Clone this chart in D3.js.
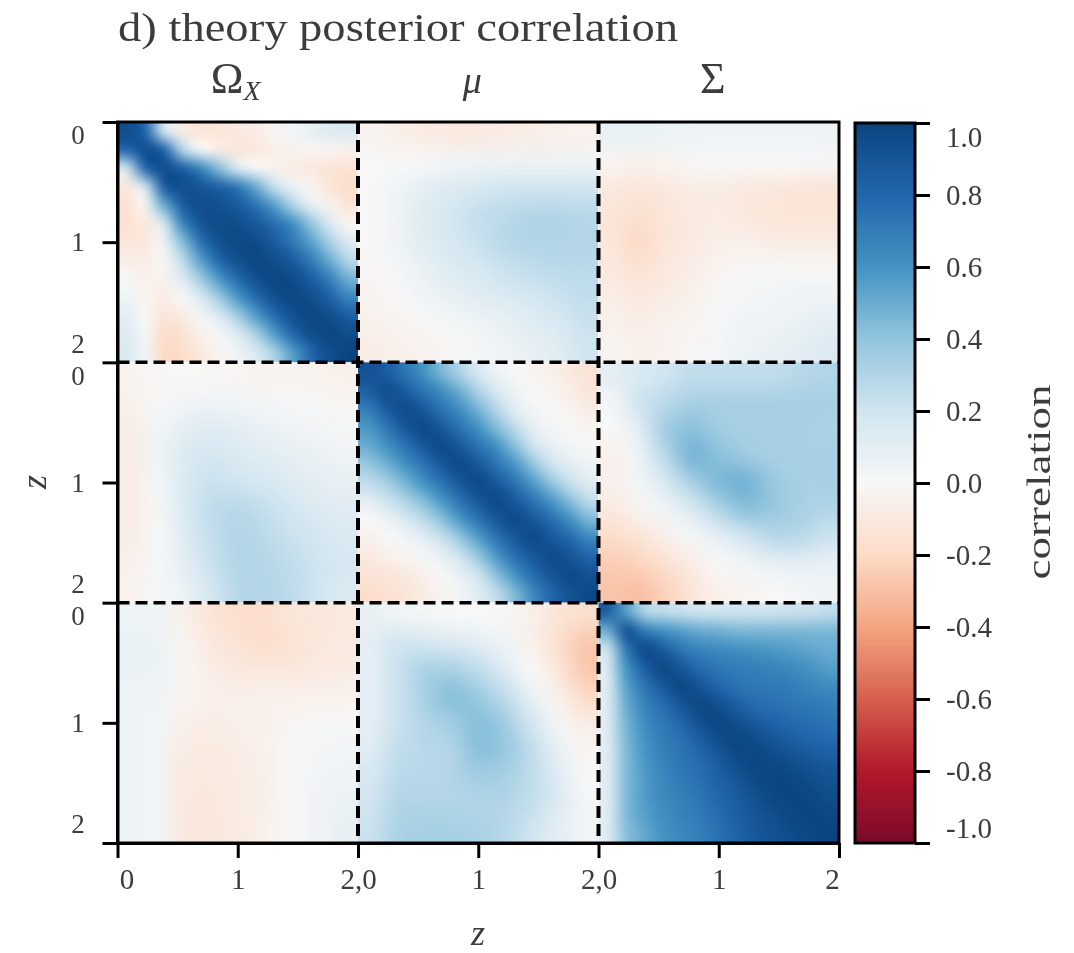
<!DOCTYPE html>
<html>
<head>
<meta charset="UTF-8">
<script src="https://d3js.org/d3.v7.min.js"></script>
<style>
    html, body { margin: 0; background: #fff; }
    svg { display: block; filter: blur(0.5px); }
    text { font-family: "Liberation Serif", serif; fill: #3c3c3c; }
    .axis path, .axis line { stroke: #000; stroke-width: 3px; }
    .axis text { font-size: 29px; }
</style>
</head>
<body>
<svg id="chart" width="1074" height="953"></svg>
<script>
// RdBu stops, -1 to 1 (ends as they look in the washed out picture)
const rdbuStops = ["#7a0a2a","#b2182b","#d6604d","#f4a582","#fddbc7","#f7f7f7","#d1e5f0","#92c5de","#4393c3","#2166ac","#0a4480"];
const colorTicks = [1, 0.8, 0.6, 0.4, 0.2, 0, -0.2, -0.4, -0.6, -0.8, -1];
const columnTitles = ["Ω", "μ", "Σ"];
const xTickLabels = ["0", "1", "2,0", "1", "2,0", "1", "2"];
const zLabels = ["0", "1", "2"];

// rows run top to bottom
const omegaOmega = [
  [.95,.8,.2,-.08,-.13,-.12,-.1,-.07,-.02,.03,.08,.13,.15],
  [.8,.95,.82,.3,0,-.08,-.12,-.1,-.06,-.04,-.03,-.03,-.04],
  [.2,.8,.95,.85,.66,.42,.15,0,-.04,-.07,-.1,-.13,-.15],
  [-.1,.2,.85,.95,.9,.83,.72,.5,.22,.06,-.03,-.12,-.18],
  [-.15,-.03,.5,.85,.95,.93,.86,.74,.55,.3,.08,-.04,-.12],
  [-.15,-.1,.16,.65,.9,.96,.95,.88,.76,.62,.38,.14,-.02],
  [-.12,-.1,.05,.42,.75,.92,.97,.96,.86,.72,.54,.32,.13],
  [-.06,-.08,-.01,.25,.55,.8,.93,.98,.95,.86,.7,.5,.28],
  [0,-.05,-.04,.12,.35,.58,.78,.93,.98,.96,.85,.68,.48],
  [.05,-.02,-.08,.01,.15,.36,.58,.78,.93,.98,.94,.83,.66],
  [.1,0,-.13,-.08,.02,.14,.34,.56,.78,.93,.98,.95,.85],
  [.13,.02,-.18,-.15,-.05,.02,.13,.32,.56,.8,.95,.99,.95],
  [.15,.03,-.2,-.18,-.1,-.03,.04,.14,.32,.56,.8,.95,1]
];
const omegaMu = [
  [-.03,-.06,-.08,-.09,-.09,-.08,-.07,-.05,-.04],
  [0,0,.01,.03,.05,.06,.06,.06,.05],
  [0,.04,.1,.14,.17,.2,.2,.2,.2],
  [0,.05,.13,.18,.24,.27,.3,.3,.28],
  [0,.04,.12,.17,.22,.28,.3,.3,.3],
  [-.02,.02,.08,.13,.17,.22,.25,.27,.27],
  [-.03,0,.04,.08,.12,.15,.18,.22,.25],
  [-.05,-.03,-.01,.02,.05,.08,.12,.16,.22],
  [-.07,-.05,-.04,-.01,.02,.05,.08,.12,.2]
];
const omegaSigma = [
  [.07,.07,.06,.05,.05,.05,.05,.05,.05],
  [-.03,-.04,-.03,-.01,0,0,0,0,.01],
  [-.1,-.12,-.1,-.08,-.08,-.1,-.11,-.12,-.13],
  [-.12,-.17,-.12,-.09,-.08,-.1,-.12,-.13,-.13],
  [-.12,-.2,-.12,-.09,-.06,-.06,-.07,-.08,-.08],
  [-.1,-.15,-.1,-.07,-.03,-.01,0,-.01,-.01],
  [-.07,-.1,-.08,-.05,0,.02,.03,.04,.04],
  [-.05,-.07,-.05,-.03,.01,.04,.05,.07,.09],
  [-.03,-.05,-.04,-.01,.02,.06,.08,.1,.14]
];
const muOmega = [
  [-.03,-.01,0,-.01,-.02,-.03,-.03,-.04,-.05],
  [-.05,0,.03,.04,.03,.02,.01,0,-.02],
  [-.07,.03,.1,.13,.1,.07,.05,.03,.01],
  [-.08,.03,.14,.18,.15,.12,.09,.07,.05],
  [-.08,.02,.15,.22,.2,.17,.13,.1,.08],
  [-.08,.01,.14,.25,.28,.24,.18,.14,.12],
  [-.07,.01,.12,.24,.3,.27,.22,.18,.15],
  [-.05,.01,.1,.22,.3,.29,.25,.2,.17],
  [-.04,.01,.06,.18,.28,.3,.26,.2,.15]
];
const muMu = [
  [.92,.86,.73,.6,.45,.3,.15,.05,0,-.03,-.06,-.1,-.14],
  [.84,.94,.86,.74,.62,.48,.3,.15,.05,0,-.03,-.07,-.12],
  [.7,.86,.96,.88,.74,.62,.46,.28,.1,.03,0,-.03,-.08],
  [.58,.72,.88,.97,.88,.74,.6,.43,.25,.08,.02,0,-.03],
  [.5,.6,.74,.88,.97,.88,.74,.6,.41,.2,.08,.03,0],
  [.38,.48,.6,.74,.88,.97,.88,.74,.58,.38,.2,.1,.05],
  [.25,.33,.46,.6,.74,.88,.97,.88,.74,.56,.38,.22,.12],
  [.1,.2,.3,.43,.58,.74,.88,.97,.88,.74,.58,.42,.25],
  [0,.05,.15,.26,.41,.58,.74,.88,.97,.88,.76,.6,.45],
  [-.05,0,.03,.1,.22,.38,.56,.74,.88,.97,.88,.78,.65],
  [-.1,-.06,-.02,.02,.08,.2,.38,.58,.76,.88,.97,.9,.8],
  [-.14,-.12,-.1,-.05,0,.08,.2,.42,.6,.78,.9,.97,.92],
  [-.18,-.16,-.13,-.08,-.03,.03,.12,.25,.45,.65,.8,.92,.97]
];
const muSigma = [
  [.1,.15,.2,.25,.25,.25,.25,.28,.3],
  [.02,.2,.27,.33,.33,.33,.33,.33,.33],
  [0,.1,.35,.42,.35,.33,.33,.33,.32],
  [-.05,.05,.28,.47,.42,.36,.33,.33,.33],
  [-.05,.03,.15,.33,.45,.48,.38,.33,.33],
  [-.1,-.03,.05,.15,.3,.42,.38,.33,.3],
  [-.18,-.13,-.05,.02,.1,.2,.28,.28,.22],
  [-.25,-.22,-.15,-.07,0,.05,.08,.1,.08],
  [-.28,-.3,-.23,-.12,-.05,-.02,0,.02,.05]
];
const sigmaOmega = [
  [.05,.05,-.05,-.13,-.17,-.17,-.12,-.11,-.1],
  [.07,.06,-.03,-.1,-.14,-.18,-.15,-.11,-.1],
  [.07,.06,-.02,-.07,-.1,-.11,-.1,-.09,-.08],
  [.05,.04,-.03,-.06,-.06,-.05,-.05,-.05,-.04],
  [.05,.03,-.05,-.07,-.06,-.05,-.02,0,0],
  [.05,.03,-.08,-.09,-.07,-.05,0,.02,.03],
  [.05,.03,-.09,-.1,-.08,-.06,0,.03,.05],
  [.05,.03,-.1,-.11,-.08,-.06,0,.04,.07],
  [.05,.03,-.1,-.11,-.09,-.05,0,.04,.08]
];
const sigmaMu = [
  [.08,.03,.02,0,0,-.01,-.06,-.13,-.17],
  [.1,.2,.17,.14,.1,.05,-.05,-.17,-.27],
  [.1,.22,.32,.32,.25,.12,0,-.12,-.27],
  [.1,.22,.33,.43,.37,.25,.07,-.05,-.2],
  [.1,.22,.3,.35,.43,.35,.18,.02,-.08],
  [.12,.25,.28,.3,.42,.38,.25,.07,-.02],
  [.17,.27,.28,.3,.35,.33,.25,.12,0],
  [.2,.3,.3,.3,.3,.3,.24,.13,.02],
  [.22,.32,.33,.33,.32,.28,.2,.1,.03]
];
const sigmaSigma = [
  [.85,.55,.3,.25,.22,.2,.2,.2,.2,.2,.22,.22,.25],
  [.5,.92,.7,.6,.55,.5,.48,.45,.45,.45,.45,.45,.45],
  [.22,.72,.97,.85,.72,.66,.63,.61,.59,.57,.55,.52,.5],
  [.15,.6,.85,.98,.88,.77,.72,.7,.68,.66,.63,.59,.55],
  [.13,.54,.74,.88,.98,.9,.8,.74,.72,.71,.69,.66,.63],
  [.12,.5,.67,.77,.9,.98,.93,.84,.77,.75,.73,.71,.69],
  [.12,.47,.63,.72,.8,.93,.98,.94,.87,.82,.78,.76,.74],
  [.12,.45,.6,.69,.75,.84,.94,.98,.96,.9,.85,.81,.79],
  [.12,.44,.58,.67,.73,.78,.87,.96,.98,.97,.93,.89,.86],
  [.12,.44,.57,.65,.71,.76,.83,.9,.97,.99,.98,.95,.91],
  [.12,.44,.57,.64,.69,.73,.8,.86,.93,.98,.99,.98,.95],
  [.12,.44,.55,.62,.67,.71,.77,.84,.9,.95,.98,.99,.98],
  [.12,.42,.52,.6,.65,.69,.75,.82,.88,.92,.96,.98,1]
];
const blocks = [
  [omegaOmega, omegaMu, omegaSigma],
  [muOmega, muMu, muSigma],
  [sigmaOmega, sigmaMu, sigmaSigma]
];

const svg = d3.select("#chart");

// each block covers z 0..2, so the whole axis runs 0..6
const x = d3.scaleLinear().domain([0, 6]).range([117.5, 839]);
const y = d3.scaleLinear().domain([0, 6]).range([122, 843]);
const color = d3.scaleLinear()
    .domain(d3.range(11).map(i => -1 + i * 0.2))
    .range(rdbuStops);
const colorY = d3.scaleLinear().domain([-1, 1]).range([843, 123]);

// one pixel per cell, the browser smooths them like imshow does
function blockImage(matrix) {
    const n = matrix.length;
    const small = document.createElement("canvas");
    small.width = small.height = n;
    const sctx = small.getContext("2d");
    matrix.forEach((row, r) => row.forEach((v, c) => {
        sctx.fillStyle = color(v);
        sctx.fillRect(c, r, 1, 1);
    }));
    const big = document.createElement("canvas");
    big.width = big.height = 240;
    const bctx = big.getContext("2d");
    bctx.imageSmoothingEnabled = true;
    bctx.imageSmoothingQuality = "high";
    bctx.drawImage(small, 0, 0, 240, 240);
    return big.toDataURL();
}

blocks.forEach((row, r) => row.forEach((matrix, c) => {
    svg.append("image")
        .attr("href", blockImage(matrix))
        .attr("x", x(c * 2))
        .attr("y", y(r * 2))
        .attr("width", x(2) - x(0))
        .attr("height", y(2) - y(0))
        .attr("preserveAspectRatio", "none");
}));

// dashed block separators
[2, 4].forEach(v => {
    svg.append("line").attr("x1", x(0)).attr("x2", x(6)).attr("y1", y(v)).attr("y2", y(v))
        .attr("stroke", "#000").attr("stroke-width", 3.5).attr("stroke-dasharray", "12,6");
    svg.append("line").attr("x1", x(v)).attr("x2", x(v)).attr("y1", y(0)).attr("y2", y(6))
        .attr("stroke", "#000").attr("stroke-width", 4).attr("stroke-dasharray", "12,6");
});

// frame
svg.append("rect")
    .attr("x", x(0)).attr("y", y(0))
    .attr("width", x(6) - x(0)).attr("height", y(6) - y(0))
    .attr("fill", "none").attr("stroke", "#000").attr("stroke-width", 3);

// x axis
const xAxis = svg.append("g").attr("class", "axis")
    .attr("transform", `translate(0,${y(6)})`)
    .call(d3.axisBottom(x).tickValues(d3.range(7)).tickSize(15).tickSizeOuter(0)
        .tickFormat((d, i) => xTickLabels[i]));
xAxis.selectAll(".tick text").attr("y", 25).attr("dy", "0.71em")
    .attr("dx", (d, i) => i === 0 ? 9 : i === 6 ? -7 : 0);

// y axis: ticks only, labels are placed per block because 2 and 0 share a tick
svg.append("g").attr("class", "axis")
    .attr("transform", `translate(${x(0)},0)`)
    .call(d3.axisLeft(y).tickValues(d3.range(7)).tickSize(15).tickSizeOuter(0).tickFormat(""));
blocks.forEach((row, r) => zLabels.forEach((label, i) => {
    const offset = i === 0 ? 13 : i === 2 ? -19 : 0;
    svg.append("text")
        .attr("x", 78).attr("y", y(r * 2 + i) + offset)
        .attr("dy", "0.34em")
        .attr("text-anchor", "middle")
        .attr("font-size", 27)
        .text(label);
}));

// colorbar
const defs = svg.append("defs");
const grad = defs.append("linearGradient").attr("id", "rdbu")
    .attr("x1", 0).attr("x2", 0).attr("y1", 1).attr("y2", 0);
rdbuStops.forEach((c, i) => grad.append("stop").attr("offset", i / 10).attr("stop-color", c));
svg.append("rect")
    .attr("x", 855).attr("y", colorY(1))
    .attr("width", 60).attr("height", colorY(-1) - colorY(1))
    .attr("fill", "url(#rdbu)").attr("stroke", "#000").attr("stroke-width", 3);
const cbAxis = svg.append("g").attr("class", "axis")
    .attr("transform", "translate(915,0)")
    .call(d3.axisRight(colorY).tickValues(colorTicks).tickSize(15).tickSizeOuter(0)
        .tickFormat(d3.format(".1f")));
cbAxis.select(".domain").remove();
cbAxis.selectAll(".tick text")
    .attr("x", 31)
    .attr("dy", d => d === 1 ? "0.8em" : d === -1 ? "-0.18em" : "0.32em")
    .text(d => d3.format(".1f")(d).replace("−", "-"));

// titles and axis labels
svg.append("text").attr("x", 118).attr("y", 41)
    .attr("font-size", 39).attr("textLength", 560).attr("lengthAdjust", "spacingAndGlyphs")
    .text("d) theory posterior correlation");
columnTitles.forEach((t, i) => {
    const label = svg.append("text")
        .attr("x", x(i * 2 + 1) + (i === 0 ? -2 : -6))
        .attr("y", 93)
        .attr("text-anchor", "middle")
        .attr("font-size", i === 1 ? 38 : 44)
        .attr("font-style", i === 1 ? "italic" : "normal")
        .text(t);
    if (i === 0) {
        label.append("tspan").attr("dy", 7).attr("font-size", 28).attr("font-style", "italic").text("X");
    }
});
svg.append("text").attr("x", 478).attr("y", 945)
    .attr("text-anchor", "middle").attr("font-size", 36).attr("font-style", "italic").text("z");
svg.append("text").attr("transform", "translate(46,482) rotate(-90)")
    .attr("text-anchor", "middle").attr("font-size", 36).attr("font-style", "italic").text("z");
svg.append("text").attr("transform", "translate(1050,482) rotate(-90)")
    .attr("text-anchor", "middle").attr("font-size", 34)
    .attr("textLength", 195).attr("lengthAdjust", "spacingAndGlyphs").text("correlation");
</script>
</body>
</html>
